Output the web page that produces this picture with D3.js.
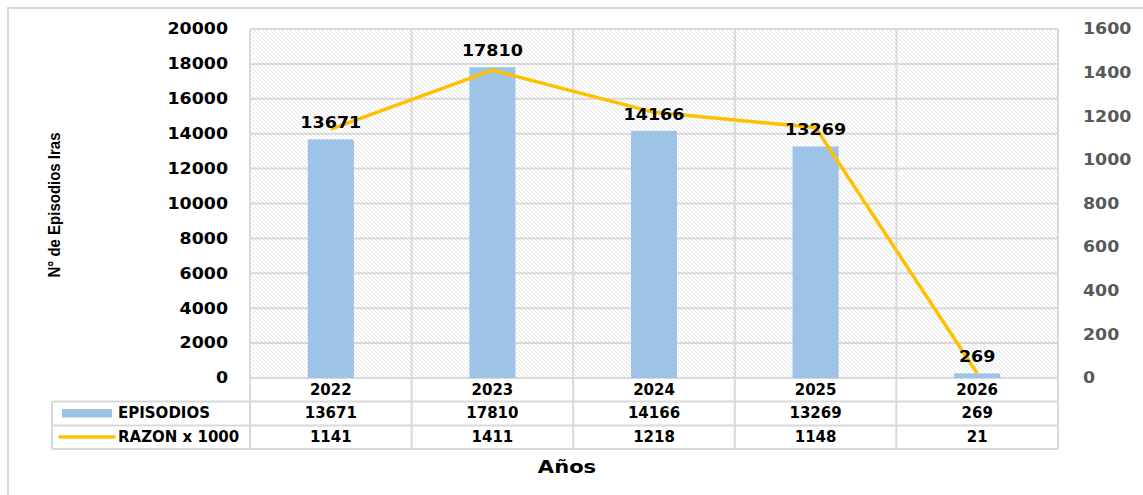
<!DOCTYPE html>
<html><head><meta charset="utf-8">
<script src="https://cdn.jsdelivr.net/npm/d3@7"></script>
<style>body{margin:0;background:#fff}</style>
</head><body>
<svg id="c" width="1143" height="495"></svg>
<script>
const years = ["2022", "2023", "2024", "2025", "2026"];
const episodios = [13671, 17810, 14166, 13269, 269];
const razon = [1141, 1411, 1218, 1148, 21];
const leftTicks = [0, 2000, 4000, 6000, 8000, 10000, 12000, 14000, 16000, 18000, 20000];
const rightTicks = [0, 200, 400, 600, 800, 1000, 1200, 1400, 1600];
const seriesNames = ["EPISODIOS", "RAZON x 1000"];
const xAxisTitle = "Años";
const yAxisTitle = "N° de Episodios Iras";

const L = 250, R = 1058, T = 29, B = 378;
const rowY = [378, 401.5, 425.5, 449];
const tableLeft = 52;
const grid = "#d9d9d9";
const barColor = "#9DC3E6", lineColor = "#FFC000";
const FONT = "'DejaVu Sans', Verdana, sans-serif";

const svg = d3.select("#c");
const defs = svg.append("defs");
const pat = defs.append("pattern").attr("id", "hatch").attr("width", 4).attr("height", 4)
  .attr("patternUnits", "userSpaceOnUse");
pat.append("rect").attr("width", 4).attr("height", 4).attr("fill", "#fff");
pat.append("path").attr("d", "M-1,-1 L5,5 M-1,3 L1,5 M3,-1 L5,1")
  .attr("stroke", "#e2e2e2").attr("stroke-width", 0.9);

// outer border
svg.append("path").attr("d", "M8,500 L8,8 L1150,8").attr("fill", "none")
  .attr("stroke", grid).attr("stroke-width", 2);

const x = d3.scaleBand().domain(years).range([L, R]).padding(0);
const yL = d3.scaleLinear().domain([0, 20000]).range([B, T]);
const yR = d3.scaleLinear().domain([0, 1600]).range([B, T]);

svg.append("rect").attr("x", L).attr("y", T).attr("width", R - L).attr("height", B - T)
  .attr("fill", "url(#hatch)");

// horizontal gridlines
svg.append("g").selectAll("line").data(leftTicks).join("line")
  .attr("x1", L).attr("x2", R).attr("y1", d => yL(d)).attr("y2", d => yL(d))
  .attr("stroke", grid).attr("stroke-width", 2);

// vertical lines
const vx = years.map(d => x(d)).concat([R]);
svg.append("g").selectAll("line").data(vx).join("line")
  .attr("x1", d => d).attr("x2", d => d).attr("y1", T).attr("y2", rowY[3])
  .attr("stroke", grid).attr("stroke-width", 2);

// table horizontal lines
svg.append("line").attr("x1", L).attr("x2", R).attr("y1", rowY[0]).attr("y2", rowY[0]).attr("stroke", grid).attr("stroke-width", 2);
[rowY[1], rowY[2], rowY[3]].forEach(yy => {
  svg.append("line").attr("x1", tableLeft).attr("x2", R).attr("y1", yy).attr("y2", yy).attr("stroke", grid).attr("stroke-width", 2);
});
svg.append("line").attr("x1", tableLeft).attr("x2", tableLeft).attr("y1", rowY[1]).attr("y2", rowY[3]).attr("stroke", grid).attr("stroke-width", 2);

// bars
const bw = x.bandwidth() * 0.285;
svg.append("g").selectAll("rect").data(episodios).join("rect")
  .attr("x", (d, i) => x(years[i]) + x.bandwidth() / 2 - bw / 2)
  .attr("y", d => yL(d)).attr("width", bw).attr("height", d => B - yL(d))
  .attr("fill", barColor);

// line
const line = d3.line().x((d, i) => x(years[i]) + x.bandwidth() / 2).y(d => yR(d));
svg.append("path").datum(razon).attr("d", line).attr("fill", "none")
  .attr("stroke", lineColor).attr("stroke-width", 3.5).attr("stroke-linejoin", "round");

function stretched(g, tx, ty, txt, opts) {
  const s = opts.scale || 1.15;
  return g.append("text").attr("transform", `translate(${tx},${ty}) scale(${s},1)`)
    .attr("text-anchor", opts.anchor || "middle").attr("font-family", FONT)
    .attr("font-weight", "bold").attr("font-size", opts.size || 15)
    .attr("fill", opts.fill || "#000").text(txt);
}

// bar labels
episodios.forEach((v, i) => {
  stretched(svg, x(years[i]) + x.bandwidth() / 2, yL(v) - 11, v, {scale: 1.17});
});

// left axis
const axL = svg.append("g").attr("transform", `translate(${L},0)`)
  .call(d3.axisLeft(yL).tickValues(leftTicks).tickSize(0).tickPadding(22).tickFormat(d3.format("d")));
axL.select(".domain").remove();
axL.selectAll("text").attr("font-family", FONT).attr("font-weight", "bold")
  .attr("font-size", 15).attr("fill", "#000")
  .attr("x", -22 / 1.16).attr("transform", "scale(1.16,1)");

// right axis
const axR = svg.append("g").attr("transform", `translate(${R},0)`)
  .call(d3.axisRight(yR).tickValues(rightTicks).tickSize(0).tickPadding(25).tickFormat(d3.format("d")));
axR.select(".domain").remove();
axR.selectAll("text").attr("font-family", FONT).attr("font-weight", "bold")
  .attr("font-size", 15).attr("fill", "#595959")
  .attr("x", 25 / 1.16).attr("transform", "scale(1.16,1)");

// table text
const tt = (tx, ty, txt, anchor) => svg.append("text").attr("x", tx).attr("y", ty)
  .attr("text-anchor", anchor || "middle").attr("font-family", FONT).attr("font-weight", "bold")
  .attr("font-size", 15).attr("fill", "#000").text(txt);
years.forEach((yv, i) => {
  const cx = x(yv) + x.bandwidth() / 2;
  tt(cx, 395, yv);
  tt(cx, 418, episodios[i]);
  tt(cx, 442, razon[i]);
});
// legend keys
svg.append("rect").attr("x", 62).attr("y", 409).attr("width", 50).attr("height", 8.5).attr("fill", barColor);
tt(118, 418, seriesNames[0], "start");
svg.append("line").attr("x1", 60).attr("x2", 114).attr("y1", 437).attr("y2", 437)
  .attr("stroke", lineColor).attr("stroke-width", 3.5).attr("stroke-linecap", "round");
tt(118, 442, seriesNames[1], "start");

// titles
stretched(svg, 567, 473, xAxisTitle, {size: 18, scale: 1.17});
svg.append("text").attr("transform", "translate(60,205) rotate(-90)")
  .attr("text-anchor", "middle").attr("font-family", "'Liberation Sans', Arial, sans-serif")
  .attr("font-weight", "bold").attr("font-size", 16).attr("fill", "#000")
  .attr("textLength", 145).attr("lengthAdjust", "spacingAndGlyphs").text(yAxisTitle);
</script>
</body></html>
